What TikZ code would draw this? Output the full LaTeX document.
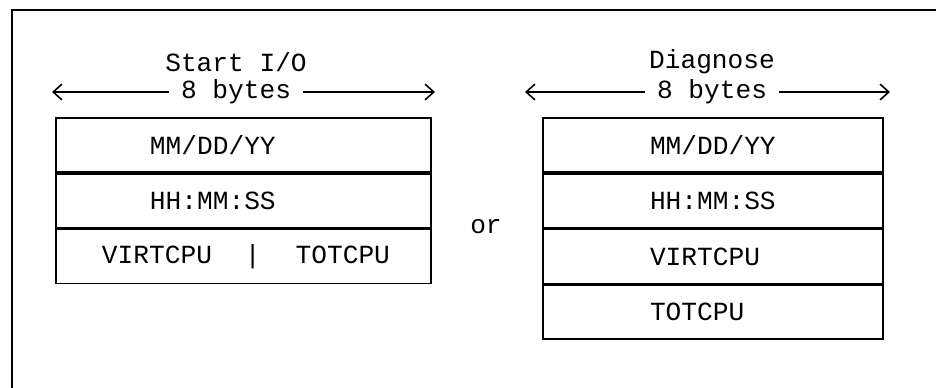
\documentclass[tikz,border=0pt]{standalone}
\usepackage{fontspec}
\setmonofont{Liberation Mono}
\usetikzlibrary{arrows.meta,positioning}

\begin{document}
\begin{tikzpicture}[
  x=1cm, y=1cm,
  txt/.style={font=\ttfamily\fontsize{14.9}{17}\selectfont, inner sep=0pt},
  cell/.style={draw, line width=1pt, minimum height=1.08cm, inner ysep=0pt,
               align=left, font=\ttfamily\fontsize{14.9}{17}\selectfont},
  lcell/.style={cell, inner xsep=1.88cm, text width=3.74cm},
  rcell/.style={cell, inner xsep=2.14cm, text width=2.52cm},
  dim/.style={-{Straight Barb[length=5pt,width=9pt]}, line width=0.9pt},
]

\useasboundingbox (0,0) rectangle (18.72,7.76);

% ---- page frame ----
\draw[line width=1.5pt] (18.72,7.56) -- (0.24,7.56) -- (0.24,0);

% ---- Start I/O ----
\node[txt] (st) at (4.72,6.52) {Start I/O};
\node[txt, inner xsep=0.24cm] (sb) at (4.72,5.92) {8 bytes};
\coordinate (sl) at (1.04,5.92);
\coordinate (sr) at (8.70,5.92);
\draw[dim] (sb.west) -- (sl);
\draw[dim] (sb.east) -- (sr);

\node[lcell] (s1) at (4.87,4.86) {MM/DD/YY};
\node[lcell, below=0pt of s1] (s2) {HH:MM:SS};
\node[cell, inner xsep=0.92cm, text width=5.66cm, below=0pt of s2]
      (s3) {\mbox{VIRTCPU\kern0.66cm|\kern0.70cm TOTCPU}};

% ---- or ----
\node[txt] (or) at (9.72,3.22) {or};

% ---- Diagnose ----
\node[txt] (dt) at (14.24,6.52) {Diagnose};
\node[txt, inner xsep=0.24cm] (db) at (14.24,5.92) {8 bytes};
\coordinate (dl) at (10.50,5.92);
\coordinate (dr) at (17.80,5.92);
\draw[dim] (db.west) -- (dl);
\draw[dim] (db.east) -- (dr);

\node[rcell] (d1) at (14.26,4.86) {MM/DD/YY};
\node[rcell, below=0pt of d1] (d2) {HH:MM:SS};
\node[rcell, below=0pt of d2] (d3) {VIRTCPU};
\node[rcell, below=0pt of d3] (d4) {TOTCPU};

\end{tikzpicture}
\end{document}
